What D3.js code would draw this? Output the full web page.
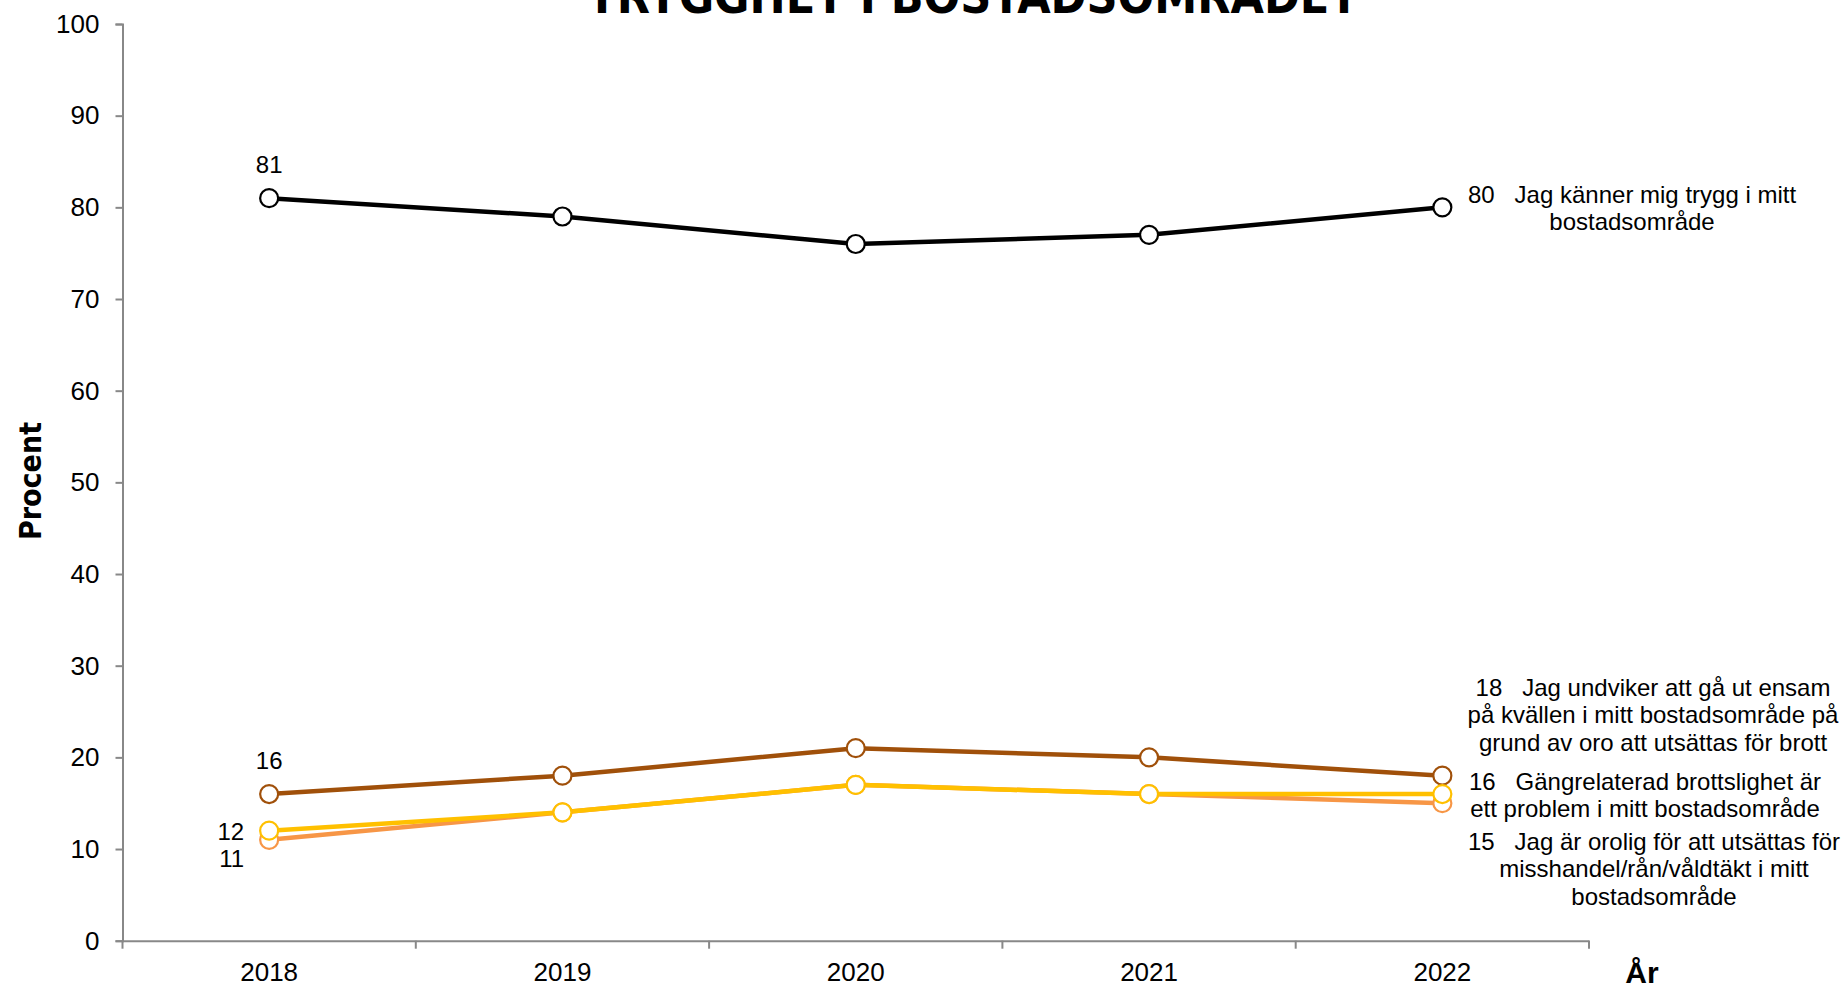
<!DOCTYPE html>
<html><head><meta charset="utf-8">
<script src="https://cdn.jsdelivr.net/npm/d3@7"></script>
<style>
body{margin:0;background:#fff;overflow:hidden;}
text{font-family:"Liberation Sans",Arial,sans-serif;fill:#000;}
</style></head><body>
<svg id="chart" width="1847" height="984"></svg>
<script>
const years = ["2018","2019","2020","2021","2022"];
const yTicks = [0,10,20,30,40,50,60,70,80,90,100];
const seriesNames = [
  "Jag känner mig trygg i mitt bostadsområde",
  "Jag undviker att gå ut ensam på kvällen i mitt bostadsområde på grund av oro att utsättas för brott",
  "Jag är orolig för att utsättas för misshandel/rån/våldtäkt i mitt bostadsområde",
  "Gängrelaterad brottslighet är ett problem i mitt bostadsområde"
];
const tryggValues = [81,79,76,77,80];
const undvikerValues = [16,18,21,20,18];
const oroligValues = [11,14,17,16,15];
const gangValues = [12,14,17,16,16];
const seriesColors = ["#000000","#A0500A","#F79646","#FFC000"];
const endLabelLines = [
  ["80   Jag känner mig trygg i mitt","bostadsområde"],
  ["18   Jag undviker att gå ut ensam","på kvällen i mitt bostadsområde på","grund av oro att utsättas för brott"],
  ["15   Jag är orolig för att utsättas för","misshandel/rån/våldtäkt i mitt","bostadsområde"],
  ["16   Gängrelaterad brottslighet är","ett problem i mitt bostadsområde"]
];

const series = [tryggValues, undvikerValues, oroligValues, gangValues].map((v,i)=>({
  name: seriesNames[i], values: v, color: seriesColors[i], lines: endLabelLines[i]
}));

const svg = d3.select("#chart");
const mLeft = 122.5, mRight = 1589, mTop = 24, mBottom = 940.7;

const x = d3.scaleBand().domain(years).range([mLeft, mRight]);
const y = d3.scaleLinear().domain([0,100]).range([mBottom, mTop]);

const tickFont = "26px";
const axisColor = "#888888";

// y axis
const yAxis = d3.axisLeft(y).tickValues(yTicks).tickSize(7).tickPadding(16);
const gy = svg.append("g").attr("transform",`translate(${mLeft},0)`).call(yAxis);
gy.select(".domain").attr("stroke",axisColor).attr("stroke-width",2);
gy.selectAll(".tick line").attr("stroke",axisColor).attr("stroke-width",2);
gy.selectAll(".tick text").style("font-size",tickFont).style("font-family","Liberation Sans, Arial, sans-serif").attr("fill","#000");

// x axis
const xAxis = d3.axisBottom(x).tickSize(0).tickPadding(22);
const gx = svg.append("g").attr("transform",`translate(0,${mBottom})`).call(xAxis);
gx.select(".domain").attr("stroke",axisColor).attr("stroke-width",2);
gx.selectAll(".tick text").style("font-size",tickFont).style("font-family","Liberation Sans, Arial, sans-serif").attr("fill","#000");
const bounds = years.map(d=>x(d)).concat([mRight]);
gx.selectAll(".btick").data(bounds).enter().append("line")
  .attr("x1",d=>d).attr("x2",d=>d).attr("y1",0).attr("y2",8)
  .attr("stroke",axisColor).attr("stroke-width",2);

const cx = d => x(d) + x.bandwidth()/2;
const line = d3.line().x((d,i)=>cx(years[i])).y(d=>y(d));

const drawOrder = [0,1,2,3];
drawOrder.forEach(i=>{
  const s = series[i];
  svg.append("path").datum(s.values).attr("d",line)
    .attr("fill","none").attr("stroke",s.color).attr("stroke-width",4.5).attr("stroke-linejoin","round");
});
drawOrder.forEach(i=>{
  const s = series[i];
  svg.append("g").selectAll("circle").data(s.values).enter().append("circle")
    .attr("cx",(d,j)=>cx(years[j])).attr("cy",d=>y(d)).attr("r",9)
    .attr("fill","#fff").attr("stroke",s.color).attr("stroke-width",2.2);
});

const fs = 24;
function lab(txt, xx, yy, anchor){
  svg.append("text").attr("x",xx).attr("y",yy).attr("text-anchor",anchor||"middle")
    .attr("dominant-baseline","central").style("font-size",fs+"px").text(txt);
}
lab(String(tryggValues[0]), cx(years[0]), y(tryggValues[0]) - 34);
lab(String(undvikerValues[0]), cx(years[0]), y(undvikerValues[0]) - 34);
lab(String(gangValues[0]), cx(years[0]) - 25, y(gangValues[0]) + 1, "end");
lab(String(oroligValues[0]), cx(years[0]) - 25, y(oroligValues[0]) + 19, "end");

const endBlocks = [
  {s:0, cxp:1632, y0:194},
  {s:1, cxp:1653, y0:687},
  {s:3, cxp:1645, y0:781},
  {s:2, cxp:1654, y0:841}
];
endBlocks.forEach(b=>{
  const t = svg.append("text").attr("text-anchor","middle").style("font-size",fs+"px")
    .style("white-space","pre");
  series[b.s].lines.forEach((ln,k)=>{
    t.append("tspan").attr("x",b.cxp).attr("y",b.y0 + k*27.6).attr("dominant-baseline","central").text(ln);
  });
});

const narrow = "'Liberation Sans Narrow','Arial Narrow','DejaVu Sans Condensed',sans-serif";
svg.append("text").attr("x",973).attr("y",13).attr("text-anchor","middle")
  .style("font-family",narrow)
  .style("font-weight","bold").style("font-size","48px").text("TRYGGHET I BOSTADSOMRÅDET");

svg.append("text").attr("transform","translate(30,481) rotate(-90)").attr("text-anchor","middle")
  .attr("dominant-baseline","central")
  .style("font-family",narrow)
  .style("font-weight","bold").style("font-size","30px").text("Procent");
svg.append("text").attr("x",1642).attr("y",983).attr("text-anchor","middle")
  .style("font-weight","bold").style("font-size","30px").text("År");
</script>
</body></html>
